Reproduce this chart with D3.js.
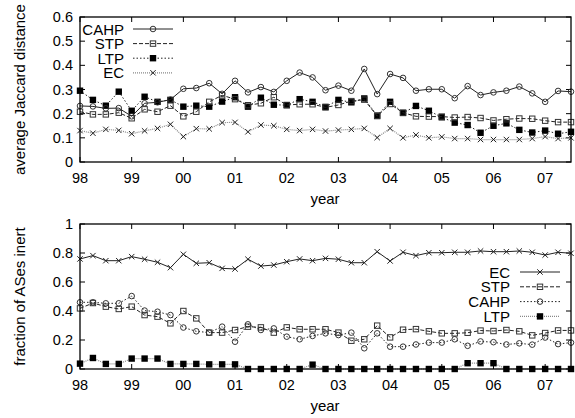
<!DOCTYPE html>
<html><head><meta charset="utf-8">
<script src="https://cdn.jsdelivr.net/npm/d3@7"></script>
<style>
body{margin:0;background:#fff}
text{font-family:"Liberation Sans",Arial,Helvetica,sans-serif;fill:#000}
</style>
</head><body>
<svg id="c" width="575" height="418"></svg>
<script>
// time axis: quarters since 1998 (98 = 1998, 107 = 2007)
const times = [98,98.25,98.5,98.75,99,99.25,99.5,99.75,100,100.25,100.5,100.75,101,101.25,101.5,101.75,102,102.25,102.5,102.75,103,103.25,103.5,103.75,104,104.25,104.5,104.75,105,105.25,105.5,105.75,106,106.25,106.5,106.75,107,107.25,107.5];
const yearTicks = [98,99,100,101,102,103,104,105,106,107];
const yearLabels = ["98","99","00","01","02","03","04","05","06","07"];

// top chart: average Jaccard distance
const jacCAHP = [0.232,0.230,0.222,0.223,0.189,0.243,0.247,0.258,0.303,0.306,0.326,0.282,0.336,0.288,0.310,0.290,0.336,0.370,0.350,0.297,0.316,0.295,0.385,0.281,0.364,0.348,0.295,0.301,0.301,0.264,0.314,0.277,0.288,0.295,0.312,0.284,0.249,0.294,0.291];
const jacSTP  = [0.208,0.197,0.197,0.204,0.181,0.218,0.208,0.233,0.189,0.208,0.249,0.276,0.260,0.235,0.243,0.268,0.236,0.239,0.239,0.226,0.236,0.252,0.258,0.190,0.240,0.204,0.189,0.188,0.188,0.184,0.186,0.182,0.172,0.177,0.180,0.179,0.171,0.165,0.165];
const jacLTP  = [0.295,0.257,0.233,0.291,0.212,0.270,0.249,0.257,0.229,0.233,0.229,0.250,0.268,0.229,0.266,0.237,0.235,0.260,0.249,0.228,0.257,0.247,0.263,0.192,0.249,0.203,0.232,0.212,0.185,0.163,0.153,0.121,0.150,0.160,0.133,0.122,0.130,0.117,0.125];
const jacEC   = [0.130,0.119,0.135,0.131,0.117,0.129,0.139,0.156,0.105,0.138,0.137,0.163,0.164,0.125,0.153,0.150,0.135,0.130,0.135,0.128,0.132,0.135,0.139,0.101,0.139,0.100,0.112,0.100,0.104,0.097,0.097,0.093,0.093,0.093,0.093,0.097,0.105,0.097,0.100];
const jacTicks = [0,0.1,0.2,0.3,0.4,0.5,0.6];

// bottom chart: fraction of ASes inert
const inEC   = [0.759,0.782,0.747,0.747,0.775,0.757,0.736,0.699,0.791,0.729,0.733,0.694,0.690,0.757,0.710,0.717,0.740,0.759,0.747,0.763,0.757,0.733,0.733,0.809,0.745,0.805,0.782,0.802,0.802,0.805,0.805,0.814,0.809,0.809,0.814,0.805,0.786,0.805,0.798];
const inSTP  = [0.418,0.455,0.430,0.414,0.430,0.372,0.361,0.315,0.400,0.349,0.251,0.251,0.269,0.292,0.287,0.251,0.287,0.274,0.274,0.274,0.251,0.195,0.205,0.299,0.218,0.271,0.275,0.260,0.246,0.246,0.250,0.265,0.262,0.269,0.260,0.232,0.248,0.266,0.266];
const inCAHP = [0.460,0.460,0.453,0.453,0.503,0.403,0.395,0.372,0.286,0.260,0.251,0.292,0.188,0.308,0.269,0.280,0.223,0.205,0.228,0.246,0.234,0.251,0.143,0.246,0.154,0.154,0.169,0.182,0.182,0.205,0.160,0.190,0.185,0.169,0.177,0.168,0.217,0.172,0.182];
const inLTP  = [0.037,0.076,0.035,0.035,0.072,0.072,0.072,0.035,0.035,0.035,0.032,0.032,0.032,0,0,0,0,0,0.030,0,0,0,0,0,0,0,0,0,0,0,0.040,0.040,0.040,0,0,0,0,0,0];
const inTicks = [0,0.2,0.4,0.6,0.8,1];
const inTickLabels = ["0","0.2","0.4","0.6","0.8","1"];

const svg = d3.select("#c");
const X0 = 80, X1 = 571;
const x = d3.scaleLinear().domain([98,107.5]).range([X0,X1]);

const styles = {
  solid:  {dash:null, color:"#222", w:1},
  dashed: {dash:"4,2", color:"#222", w:1},
  dotted: {dash:"1.5,2", color:"#222", w:1},
  gray:   {dash:"1,1", color:"#888", w:1.2}
};

function marker(g, type, cx, cy){
  if(type==="circle"){
    g.append("circle").attr("cx",cx).attr("cy",cy).attr("r",2.8)
      .attr("fill","none").attr("stroke","#333").attr("stroke-width",1);
  } else if(type==="osquare"){
    g.append("rect").attr("x",cx-2.7).attr("y",cy-2.7).attr("width",5.4).attr("height",5.4)
      .attr("fill","none").attr("stroke","#333").attr("stroke-width",1);
  } else if(type==="fsquare"){
    g.append("rect").attr("x",cx-3.2).attr("y",cy-3.2).attr("width",6.4).attr("height",6.4)
      .attr("fill","#000");
  } else if(type==="cross"){
    const s=2.7;
    g.append("path").attr("d",`M${cx-s},${cy-s}L${cx+s},${cy+s}M${cx-s},${cy+s}L${cx+s},${cy-s}`)
      .attr("stroke","#222").attr("stroke-width",1);
  }
}

function panel(top, bottom, domainMax, ticks, tickLabels, ytitle, series, legend){
  const y = d3.scaleLinear().domain([0,domainMax]).range([bottom,top]);
  const g = svg.append("g");
  const tl = 5;
  g.selectAll(".xt").data(yearTicks).enter().append("path")
    .attr("d",d=>`M${x(d)},${bottom}v${-tl}M${x(d)},${top}v${tl}`)
    .attr("stroke","#000").attr("stroke-width",1);
  g.selectAll(".yt").data(ticks).enter().append("path")
    .attr("d",d=>`M${X0},${y(d)}h${tl}M${X1},${y(d)}h${-tl}`)
    .attr("stroke","#000").attr("stroke-width",1);
  g.selectAll(".xl").data(yearTicks).enter().append("text")
    .attr("x",d=>x(d)).attr("y",bottom+21).attr("text-anchor","middle")
    .attr("font-size",14.5).text((d,i)=>yearLabels[i]);
  g.selectAll(".yl").data(ticks).enter().append("text")
    .attr("x",X0-7).attr("y",d=>y(d)+5).attr("text-anchor","end")
    .attr("font-size",14.5).text((d,i)=>tickLabels[i]);
  g.append("text").attr("x",325).attr("y",bottom+42).attr("text-anchor","middle")
    .attr("font-size",15).text("year");
  g.append("text").attr("transform",`translate(25,${(top+bottom)/2}) rotate(-90)`)
    .attr("text-anchor","middle").attr("font-size",15).text(ytitle);
  series.forEach(s=>{
    const st = styles[s.style];
    const line = d3.line().x((d,i)=>x(times[i])).y(d=>y(d));
    g.append("path").datum(s.values).attr("d",line).attr("fill","none")
      .attr("stroke",st.color).attr("stroke-width",st.w)
      .attr("stroke-dasharray",st.dash);
    s.values.forEach((v,i)=>marker(g,s.marker,x(times[i]),y(v)));
  });
  legend.items.forEach((it,k)=>{
    const s = series.find(d=>d.name===it);
    const st = styles[s.style];
    const ly = legend.y0 + k*legend.dy;
    g.append("text").attr("x",legend.tx).attr("y",ly+5.5).attr("text-anchor","end")
      .attr("font-size",15).text(it);
    g.append("path").attr("d",`M${legend.lx0},${ly}H${legend.lx1}`).attr("fill","none")
      .attr("stroke",st.color).attr("stroke-width",st.w).attr("stroke-dasharray",st.dash);
    marker(g,s.marker,(legend.lx0+legend.lx1)/2,ly);
  });
  g.append("rect").attr("x",X0).attr("y",top).attr("width",X1-X0).attr("height",bottom-top)
    .attr("fill","none").attr("stroke","#000").attr("stroke-width",1.3);
}

panel(17,162,0.6,jacTicks,jacTicks.map(d=>d===0?"0":d.toFixed(1)),"average Jaccard distance",
  [
    {name:"EC",values:jacEC,style:"gray",marker:"cross"},
    {name:"LTP",values:jacLTP,style:"dotted",marker:"fsquare"},
    {name:"STP",values:jacSTP,style:"dashed",marker:"osquare"},
    {name:"CAHP",values:jacCAHP,style:"solid",marker:"circle"}
  ],
  {items:["CAHP","STP","LTP","EC"],y0:29,dy:14.6,tx:124,lx0:133,lx1:173});

panel(224,369,1,inTicks,inTickLabels,"fraction of ASes inert",
  [
    {name:"LTP",values:inLTP,style:"gray",marker:"fsquare"},
    {name:"CAHP",values:inCAHP,style:"dotted",marker:"circle"},
    {name:"STP",values:inSTP,style:"dashed",marker:"osquare"},
    {name:"EC",values:inEC,style:"solid",marker:"cross"}
  ],
  {items:["EC","STP","CAHP","LTP"],y0:272,dy:14.8,tx:510,lx0:520,lx1:560});
</script>
</body></html>
